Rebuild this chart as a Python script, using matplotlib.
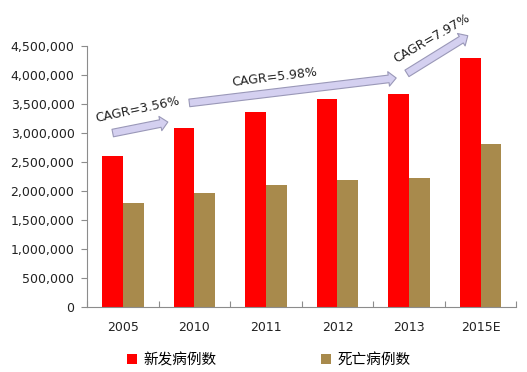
import numpy as np
import matplotlib.pyplot as plt

plt.rcParams['font.family'] = ['DejaVu Sans', 'Noto Sans CJK SC']

years = ['2005', '2010', '2011', '2012', '2013', '2015E']
new_cases = [2600000, 3090000, 3370000, 3580000, 3680000, 4290000]
deaths = [1800000, 1960000, 2110000, 2190000, 2220000, 2810000]
series_names = ['新发病例数', '死亡病例数']
cagr_labels = ['CAGR=3.56%', 'CAGR=5.98%', 'CAGR=7.97%']

red = '#FF0000'
brown = '#A88A4C'
axis_gray = '#8C8C8C'

fig = plt.figure(figsize=(5.27, 3.72), dpi=100)
ax = fig.add_axes([0.165, 0.175, 0.815, 0.701])

x = np.arange(len(years))
w = 0.29
ax.bar(x - w / 2, new_cases, w, color=red, label=series_names[0])
ax.bar(x + w / 2, deaths, w, color=brown, label=series_names[1])

ax.set_xlim(-0.5, len(years) - 0.5)
ax.set_ylim(0, 4500000)
ax.set_yticks(np.arange(0, 4500001, 500000))
ax.set_yticklabels([f'{v:,}' for v in range(0, 4500001, 500000)])
ax.set_xticks(x)
ax.set_xticklabels(years)
ax.set_xticks(np.arange(-0.5, len(years)), minor=True)

for s in ['top', 'right']:
    ax.spines[s].set_visible(False)
for s in ['left', 'bottom']:
    ax.spines[s].set_color(axis_gray)
    ax.spines[s].set_linewidth(0.8)
ax.tick_params(axis='y', colors=axis_gray, labelcolor='#222222', labelsize=9, length=4, width=0.8, pad=5)
ax.tick_params(axis='x', which='major', length=0, labelcolor='#222222', labelsize=9, pad=10)
ax.tick_params(axis='x', which='minor', length=4, color=axis_gray, width=0.8, direction='in')

# CAGR arrows
arrows = [
    ((-0.14, 3000000), (0.63, 3190000)),
    ((0.93, 3520000), (3.82, 3950000)),
    ((3.97, 4030000), (4.82, 4680000)),
]
text_pos = [((0.21, 3400000), 12), ((2.12, 3970000), 7), ((4.32, 4640000), 30)]
for (tail, head), lbl, (tp, rot) in zip(arrows, cagr_labels, text_pos):
    ax.annotate('', xy=head, xytext=tail, annotation_clip=False,
                arrowprops=dict(arrowstyle='simple,head_length=0.55,head_width=1.05,tail_width=0.55',
                                fc='#D4D0F0', ec='#9A98B8', lw=0.8, shrinkA=0, shrinkB=0))
    ax.text(tp[0], tp[1], lbl, rotation=rot, ha='center', va='center',
            fontsize=9, color='#222222', rotation_mode='anchor', clip_on=False)

fig.legend(loc='lower center', bbox_to_anchor=(0.51, -0.022), ncol=2, frameon=False,
           prop={'family': 'Noto Sans CJK SC', 'size': 10.5}, handlelength=0.7,
           handleheight=0.7, handletextpad=0.4, columnspacing=7.2)

fig.savefig('out.png', dpi=100)
